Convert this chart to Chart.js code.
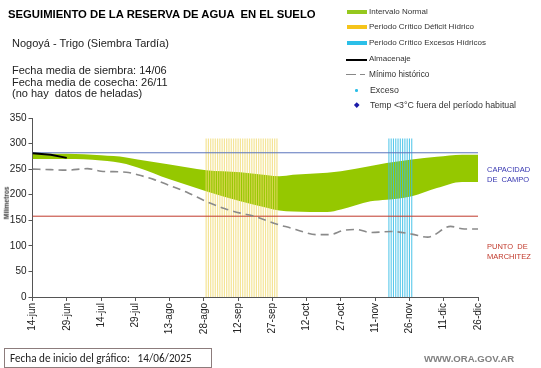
<!DOCTYPE html>
<html>
<head>
<meta charset="utf-8">
<script src="https://cdn.jsdelivr.net/npm/chart.js@4.4.1/dist/chart.umd.min.js"></script>
<style>
  html, body { margin: 0; padding: 0; background: #fff; }
  body { width: 541px; height: 368px; position: relative; overflow: hidden; font-family: "Liberation Sans", Arial, sans-serif; }
  #c { position: absolute; left: 0; top: 0; }
  .t { position: absolute; white-space: pre; line-height: 1; }
  .sw { position: absolute; }
</style>
</head>
<body>
<canvas id="c" width="541" height="368"></canvas>

<div class="t" style="left:8px;top:9px;font-size:11.3px;font-weight:bold;color:#000;">SEGUIMIENTO DE LA RESERVA DE AGUA  EN EL SUELO</div>
<div class="t" style="left:12px;top:38px;font-size:11px;color:#222;">Nogoyá - Trigo (Siembra Tardía)</div>
<div class="t" style="left:12px;top:65px;font-size:11px;color:#222;">Fecha media de siembra: 14/06</div>
<div class="t" style="left:12px;top:76.5px;font-size:11px;color:#222;">Fecha media de cosecha: 26/11</div>
<div class="t" style="left:12px;top:88px;font-size:11px;color:#222;">(no hay  datos de heladas)</div>

<!-- legend -->
<div class="sw" style="left:347px;top:10px;width:20px;height:4px;background:#95c81e;"></div>
<div class="t" style="left:369px;top:7.7px;font-size:8px;color:#333;">Intervalo Normal</div>
<div class="sw" style="left:347px;top:25px;width:20px;height:4px;background:#f5c41a;"></div>
<div class="t" style="left:369px;top:22.7px;font-size:8px;color:#333;">Periodo Crítico Déficit Hídrico</div>
<div class="sw" style="left:347px;top:41px;width:20px;height:4px;background:#2bbfe8;"></div>
<div class="t" style="left:369px;top:38.7px;font-size:8px;color:#333;">Periodo Crítico Excesos Hídricos</div>
<div class="sw" style="left:346px;top:58.5px;width:21px;height:2px;background:#000;"></div>
<div class="t" style="left:369px;top:55.3px;font-size:8px;color:#333;">Almacenaje</div>
<div class="sw" style="left:346px;top:73.5px;width:10px;height:1.5px;background:#888;"></div>
<div class="sw" style="left:360px;top:73.5px;width:5px;height:1.5px;background:#888;"></div>
<div class="t" style="left:369px;top:70px;font-size:8.3px;color:#333;">Mínimo histórico</div>
<div class="sw" style="left:355px;top:89px;width:2.5px;height:2.5px;background:#2bbfe8;border-radius:50%;"></div>
<div class="t" style="left:370px;top:85.5px;font-size:8.8px;color:#333;">Exceso</div>
<div class="sw" style="left:354.5px;top:102.5px;width:3.5px;height:3.5px;background:#1a1aa8;transform:rotate(45deg);"></div>
<div class="t" style="left:370px;top:100.5px;font-size:8.8px;color:#333;">Temp &lt;3°C fuera del período habitual</div>

<!-- right labels -->
<div class="t" style="left:487px;top:166px;font-size:7.5px;color:#3636b0;">CAPACIDAD</div>
<div class="t" style="left:487px;top:176px;font-size:7.5px;color:#3636b0;">DE  CAMPO</div>
<div class="t" style="left:487px;top:242.5px;font-size:7.5px;color:#c0392b;">PUNTO  DE</div>
<div class="t" style="left:487px;top:252.5px;font-size:7.5px;color:#c0392b;">MARCHITEZ</div>

<!-- y axis title -->
<div class="t" style="left:7px;top:203px;font-size:6.5px;font-weight:bold;color:#333;transform:translate(-50%,-50%) rotate(-90deg);">Milímetros</div>

<!-- bottom -->
<div style="position:absolute;left:4px;top:348px;width:206px;height:18px;border:1px solid #8c7c7c;"></div>
<div class="t" style="left:10px;top:353px;font-size:11.2px;color:#222;font-family:Carlito,Lato,'Liberation Sans',sans-serif;">Fecha de inicio del gráfico:   14/06/2025</div>
<div class="t" style="left:424px;top:353.5px;font-size:9.6px;font-weight:bold;color:#808080;">WWW.ORA.GOV.AR</div>

<script>
// ---- data (x = days since 14-jun) ----
const xTickLabels = ['14-jun','29-jun','14-jul','29-jul','13-ago','28-ago','12-sep','27-sep','12-oct','27-oct','11-nov','26-nov','11-dic','26-dic'];
const yTicks = [0, 50, 100, 150, 200, 250, 300, 350];

const bandDays  = [0, 15, 30, 41, 46, 60, 76, 91, 103, 108, 114, 129, 135, 148, 155, 166, 177, 188, 195];
const bandUpper = [280, 280, 277, 273, 269, 259, 248, 244, 238, 236, 239, 243, 246, 256, 262, 269, 274, 278, 278];
const bandLower = [270, 270, 267, 260, 253, 230, 207, 187, 174, 169, 167, 166, 171, 187, 190, 197, 213, 225, 225];

const minDays = [0, 8, 15, 24, 30, 41, 46, 53, 60, 68, 76, 84, 91, 97, 108, 113, 118, 124, 130, 136, 142, 148, 157, 166, 173, 183, 189, 195];
const minVals = [250, 249, 248, 251, 246, 244, 239, 230, 218, 204, 187, 173, 164, 158, 141, 135, 128, 122, 122, 130, 132, 126, 128, 123, 117, 138, 133, 133];

const almDays = [0, 8, 15];
const almVals = [281, 278, 272];

const capacidadCampo = 282;
const puntoMarchitez = 158;

const deficitPeriod = [76, 107];   // first and last day of period
const excesoPeriod  = [156, 166];
const periodTop = 310;

// ---- helpers building library data from the arrays ----
const pts = (xs, ys) => xs.map((x, i) => ({ x: x, y: ys[i] }));
function verticals(range) {
  const out = [];
  for (let d = range[0]; d <= range[1]; d++) {
    out.push({ x: d, y: 0 }, { x: d, y: periodTop }, { x: d, y: null });
  }
  return out;
}
const lastDay = bandDays[bandDays.length - 1];

const ctx = document.getElementById('c').getContext('2d');
new Chart(ctx, {
  type: 'line',
  data: {
    datasets: [
      { label: 'lower', data: pts(bandDays, bandLower), borderWidth: 0, borderColor: '#95c800', pointRadius: 0, fill: false, cubicInterpolationMode: 'monotone', order: 10 },
      { label: 'Intervalo Normal', data: pts(bandDays, bandUpper), borderWidth: 0, borderColor: '#95c800', backgroundColor: '#95c800', pointRadius: 0, fill: '-1', cubicInterpolationMode: 'monotone', order: 9 },
      { label: 'Periodo Crítico Déficit Hídrico', data: verticals(deficitPeriod), borderColor: 'rgba(240,218,110,0.72)', borderWidth: 1.2, pointRadius: 0, spanGaps: false, fill: false, order: 6 },
      { label: 'Periodo Crítico Excesos Hídricos', data: verticals(excesoPeriod), borderColor: 'rgba(60,190,230,0.85)', borderWidth: 1.1, pointRadius: 0, spanGaps: false, fill: false, order: 5 },
      { label: 'Capacidad de campo', data: [{ x: 0, y: capacidadCampo }, { x: lastDay, y: capacidadCampo }], borderColor: '#5a74bd', borderWidth: 1, pointRadius: 0, fill: false, order: 4 },
      { label: 'Punto de marchitez', data: [{ x: 0, y: puntoMarchitez }, { x: lastDay, y: puntoMarchitez }], borderColor: '#c0392b', borderWidth: 1, pointRadius: 0, fill: false, order: 4 },
      { label: 'Mínimo histórico', data: pts(minDays, minVals), borderColor: '#8a8a8a', borderWidth: 1.6, borderDash: [8, 5], pointRadius: 0, fill: false, cubicInterpolationMode: 'monotone', order: 3 },
      { label: 'Almacenaje', data: pts(almDays, almVals), borderColor: '#000', borderWidth: 2, pointRadius: 0, fill: false, order: 1 }
    ]
  },
  options: {
    responsive: false,
    animation: false,
    devicePixelRatio: 1,
    layout: { padding: { left: 0, right: 63, top: 118, bottom: 31 } },
    plugins: { legend: { display: false }, tooltip: { enabled: false } },
    scales: {
      x: {
        type: 'linear', min: 0, max: lastDay,
        afterFit: (s) => { s.height = 40; },
        grid: { display: true, drawOnChartArea: false, drawTicks: true, tickLength: 4, color: '#555' },
        border: { display: true, color: '#555', width: 1 },
        ticks: {
          stepSize: 15, autoSkip: false, maxRotation: 90, minRotation: 90, padding: 2,
          color: '#222', font: { family: 'Liberation Sans', size: 10 },
          callback: (v) => xTickLabels[Math.round(v / 15)] ?? ''
        }
      },
      y: {
        type: 'linear', min: yTicks[0], max: yTicks[yTicks.length - 1],
        afterFit: (s) => { s.width = 32.5; },
        afterBuildTicks: (s) => { s.ticks = yTicks.map(v => ({ value: v })); },
        grid: { display: true, drawOnChartArea: false, drawTicks: true, tickLength: 4, color: '#555' },
        border: { display: true, color: '#555', width: 1 },
        ticks: { padding: 2, color: '#222', font: { family: 'Liberation Sans', size: 10 } }
      }
    }
  }
});
</script>
</body>
</html>
